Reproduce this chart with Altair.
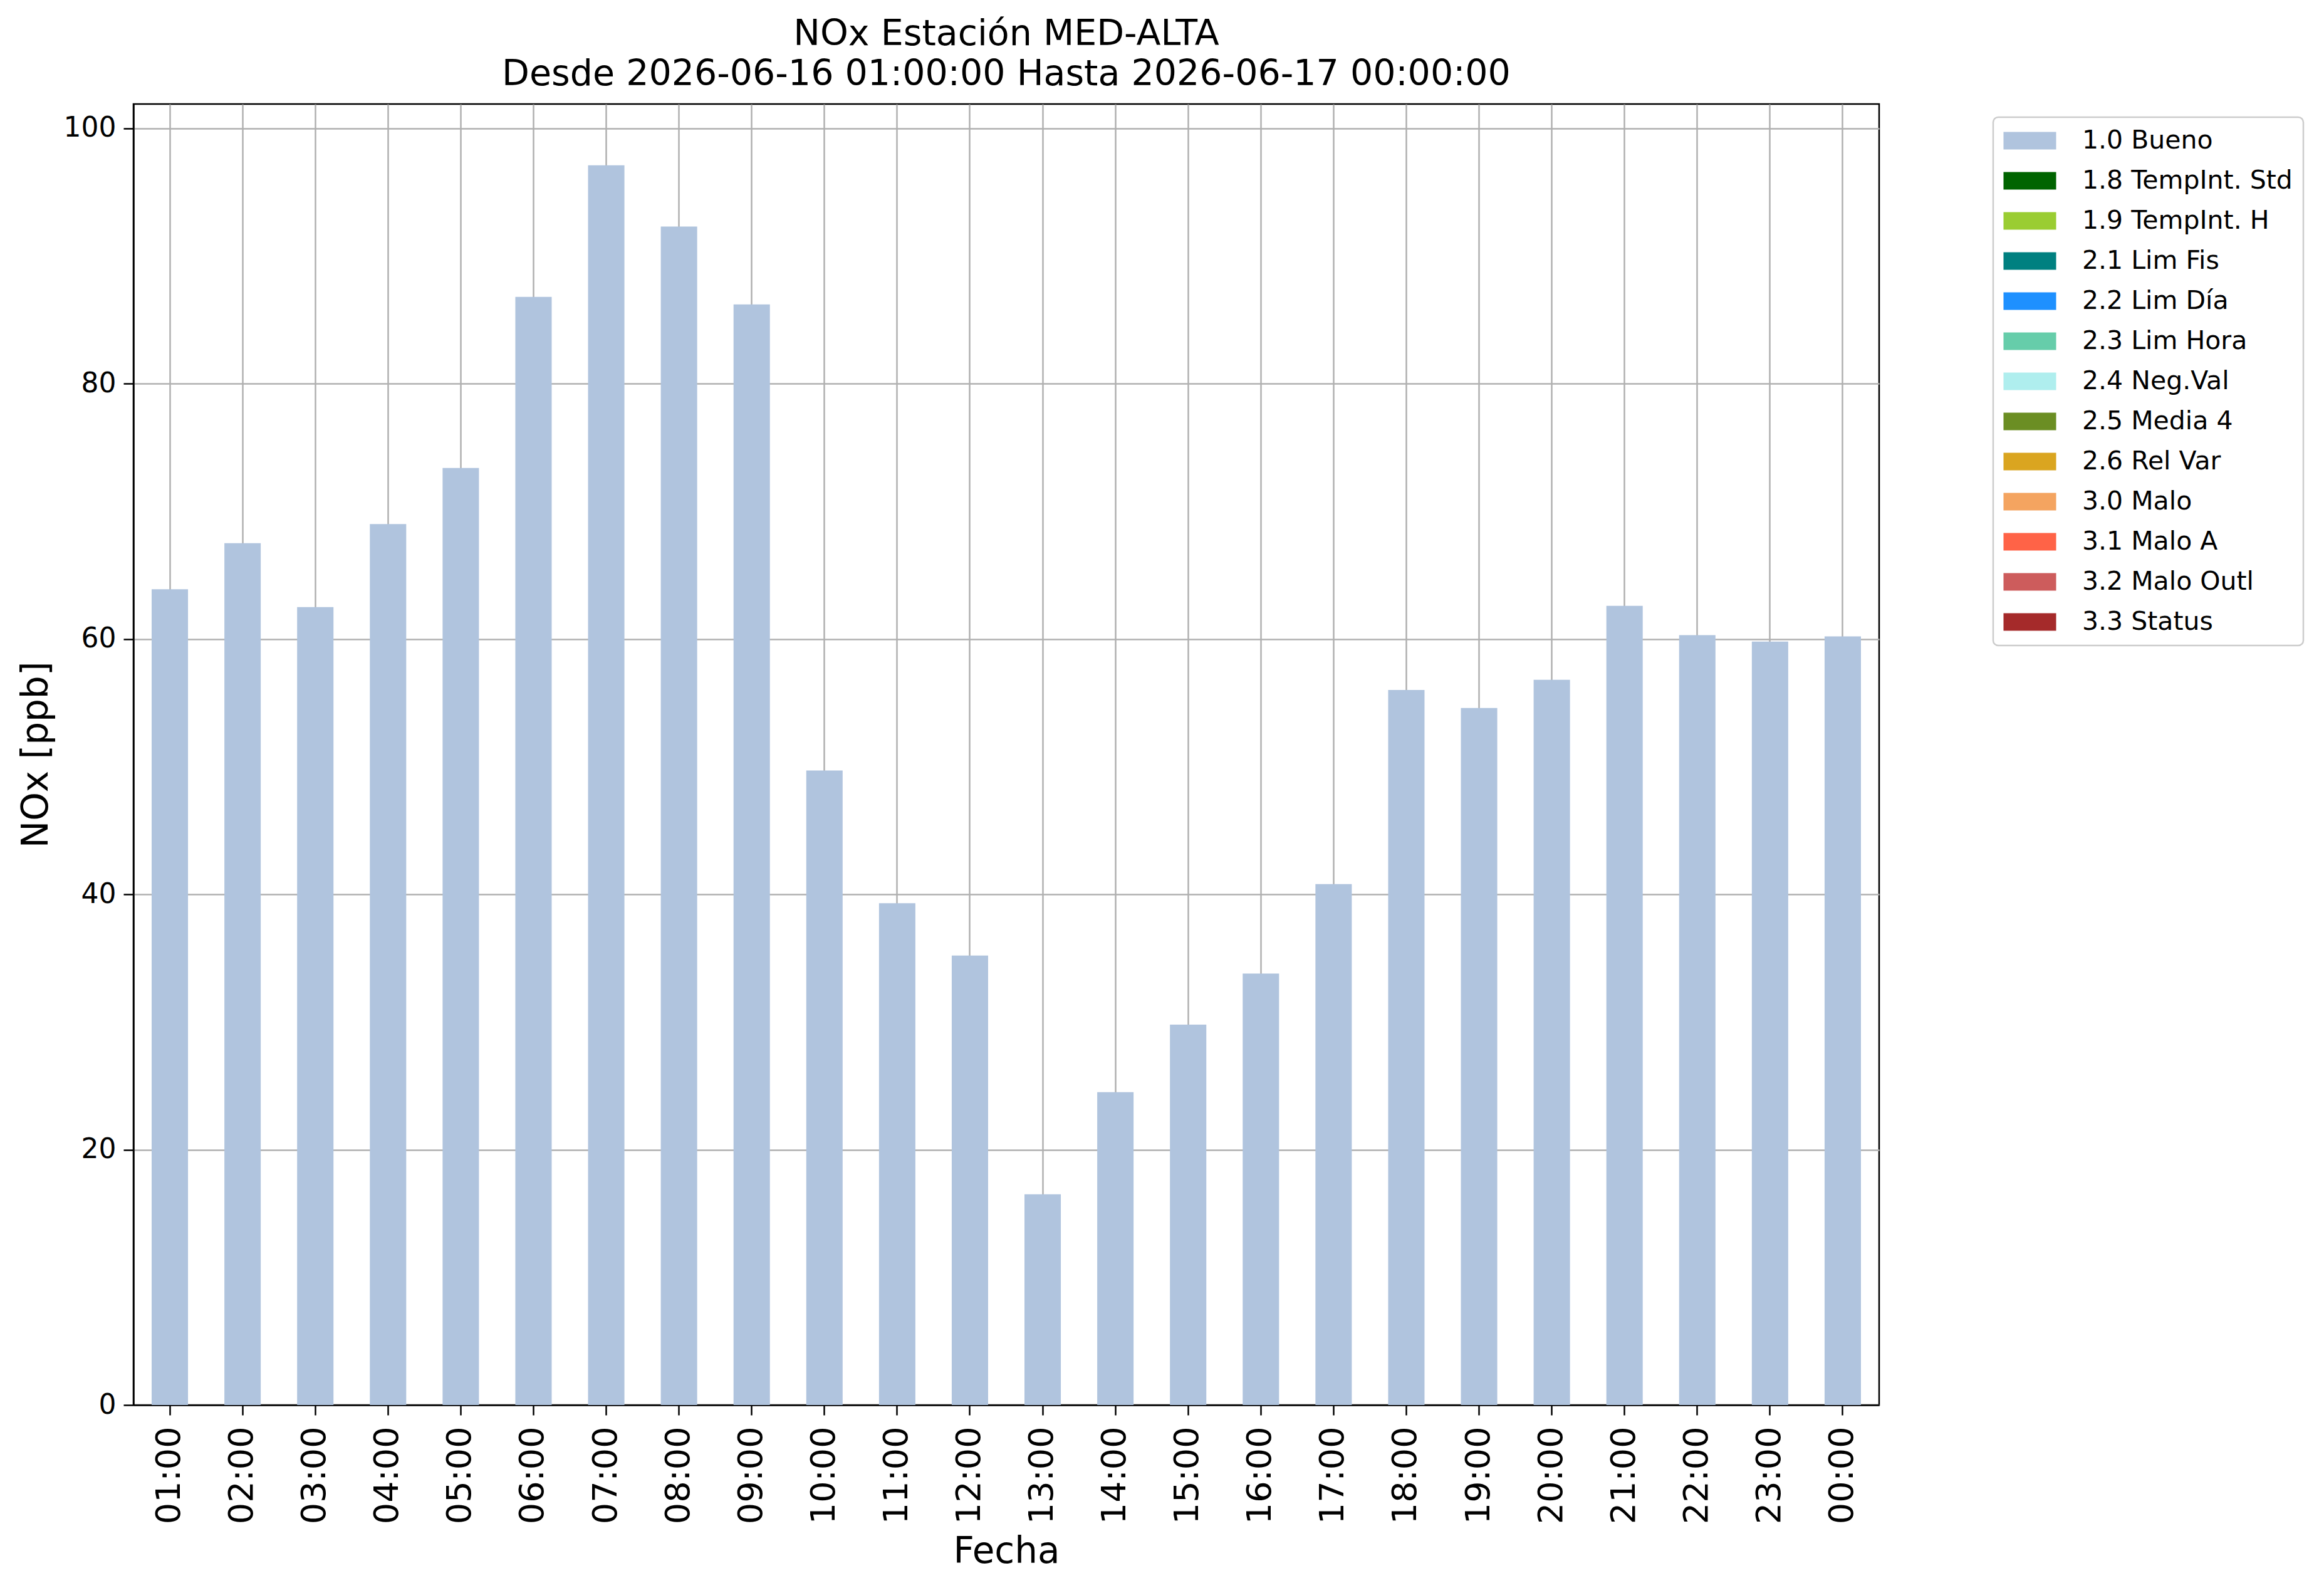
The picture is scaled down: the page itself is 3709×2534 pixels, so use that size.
import altair as alt
import pandas as pd

hours = ["01:00", "02:00", "03:00", "04:00", "05:00", "06:00", "07:00", "08:00",
         "09:00", "10:00", "11:00", "12:00", "13:00", "14:00", "15:00", "16:00",
         "17:00", "18:00", "19:00", "20:00", "21:00", "22:00", "23:00", "00:00"]
nox = [63.9, 67.5, 62.5, 69.0, 73.4, 86.8, 97.1, 92.3,
       86.2, 49.7, 39.3, 35.2, 16.5, 24.5, 29.8, 33.8,
       40.8, 56.0, 54.6, 56.8, 62.6, 60.3, 59.8, 60.2]
flags = ["1.0 Bueno"] * 24

flag_labels = ["1.0 Bueno", "1.8 TempInt. Std", "1.9 TempInt. H", "2.1 Lim Fis",
               "2.2 Lim Día", "2.3 Lim Hora", "2.4 Neg.Val", "2.5 Media 4",
               "2.6 Rel Var", "3.0 Malo", "3.1 Malo A", "3.2 Malo Outl", "3.3 Status"]
flag_colors = ["#b0c4de", "#006400", "#9acd32", "#008080", "#1e90ff", "#66cdaa",
               "#afeeee", "#6b8e23", "#daa520", "#f4a460", "#ff6347", "#cd5c5c",
               "#a52a2a"]
y_ticks = [0, 20, 40, 60, 80, 100]

df = pd.DataFrame({"Fecha": hours, "NOx": nox, "Flag": flags})

FONT = "DejaVu Sans"
W, H = 2786, 2076

chart = alt.Chart(df).mark_bar().encode(
    x=alt.X("Fecha:N", sort=hours,
            scale=alt.Scale(paddingInner=0.5, paddingOuter=0.25),
            axis=alt.Axis(title="Fecha", labelAngle=270, labelFontSize=54,
                          labelPadding=18, tickSize=16, bandPosition=0.5,
                          titleFontSize=58, titleX=W / 2, titleY=251,
                          titleAlign="center", titleBaseline="alphabetic")),
    y=alt.Y("NOx:Q",
            scale=alt.Scale(domain=[0, 101.9], nice=False, zero=True),
            axis=alt.Axis(title="NOx [ppb]", values=y_ticks, labelFontSize=44,
                          labelPadding=12, tickSize=16, titleFontSize=58,
                          titleX=-155, titleY=H / 2, titleAngle=270,
                          titleAlign="center", titleBaseline="middle")),
    color=alt.Color("Flag:N", title=None,
                    scale=alt.Scale(domain=flag_labels, range=flag_colors),
                    legend=alt.Legend(orient="none", legendX=2968, legendY=21,
                                      symbolType="M-1.5,-1L4.5,-1L4.5,1L-1.5,1Z",
                                      symbolSize=784, symbolStrokeWidth=0,
                                      labelFontSize=41, labelFont=FONT,
                                      labelColor="black", labelOffset=84,
                                      labelLimit=800,
                                      rowPadding=22, padding=17,
                                      strokeColor="#cccccc", fillColor="white",
                                      cornerRadius=8)),
).properties(
    width=W, height=H,
    autosize=alt.AutoSizeParams(type="none"),
    padding={"left": 205, "top": 158, "right": 702, "bottom": 284},
    title=alt.TitleParams(
        text=["NOx Estación MED-ALTA",
              "Desde 2026-06-16 01:00:00 Hasta 2026-06-17 00:00:00"],
        font=FONT, fontSize=57, fontWeight="normal", color="black",
        anchor="middle", frame="group", offset=18, lineHeight=64),
).configure_view(
    stroke="black", strokeWidth=2.5
).configure_axis(
    labelFont=FONT, titleFont=FONT, labelColor="black", titleColor="black",
    titleFontWeight="normal", domainColor="black", domainWidth=2.5,
    tickColor="black", tickWidth=2.5, gridColor="#b0b0b0", gridWidth=2.5,
    grid=True, zindex=1
).configure_legend(
    strokeWidth=2.5
)

chart.save("out.html", embed_options={"renderer": "svg", "actions": False})
